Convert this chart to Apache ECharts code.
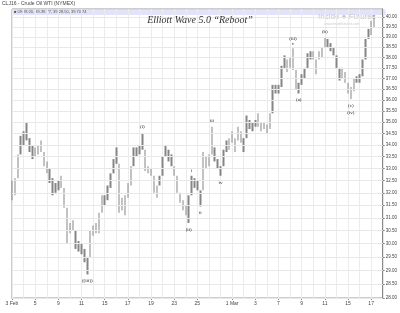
<!DOCTYPE html>
<html><head><meta charset="utf-8">
<script src="https://cdn.jsdelivr.net/npm/echarts@6/dist/echarts.min.js"></script>
<style>html,body{margin:0;padding:0;background:#fff}#c{width:400px;height:313px}</style>
</head><body><div id="c"></div>
<script>
// trading days (Feb 3 – Mar 17)
const days = ['3 Feb','4','5','8','9','10','11','12','15','16','17','18','19','22','23','24','25','26','29','1 Mar','2','3','4','7','8','9','10','11','14','15','16','17'];
const labelDayIdx = [0,2,4,6,8,10,12,14,16,19,21,23,25,27,29,31];
const barsPerDay = 4;
// bar lows / highs
const lows = [31.7,31.9,32.6,33.6,34.0,34.2,33.7,33.4,33.5,33.6,33.7,33.1,32.8,32.4,31.9,32.0,32.1,32.2,31.4,30.0,
30.4,30.5,29.8,29.7,29.6,29.3,28.85,29.5,30.3,30.4,30.4,31.2,31.5,31.7,32.2,32.8,33.2,31.2,31.3,31.1,
31.8,32.3,33.1,33.5,33.6,33.8,32.9,32.8,32.7,32.0,31.8,32.3,32.7,33.5,33.3,33.1,32.7,32.0,31.6,31.3,
31.1,30.8,31.9,32.2,32.1,31.45,32.1,33.0,33.1,33.6,33.3,33.0,32.7,33.1,33.7,33.8,34.1,33.7,34.2,34.1,
33.7,34.3,34.7,34.6,34.8,34.8,34.6,34.7,34.5,34.7,35.4,36.3,36.3,36.6,37.5,37.3,37.5,37.4,36.5,36.3,
36.7,37.0,37.5,37.9,37.9,37.2,37.9,38.0,38.5,38.5,38.3,38.1,37.5,36.9,37.0,36.8,36.3,36.05,36.4,36.8,
36.8,37.1,37.9,38.9,39.1,39.5];
const highs = [32.5,32.6,33.6,34.4,34.6,35.0,34.3,34.0,33.9,34.0,34.2,33.7,33.3,33.0,32.6,32.4,32.5,32.7,32.2,31.4,
30.8,30.9,30.5,30.1,30.0,29.8,29.5,30.5,30.7,30.8,31.2,31.9,31.9,32.3,32.8,33.4,33.9,33.2,31.8,31.9,
32.4,33.1,33.9,33.9,34.0,34.5,33.8,33.1,33.0,32.7,32.3,32.7,33.5,34.0,33.8,33.6,33.1,32.7,32.0,31.7,
31.5,31.9,32.7,32.6,32.5,32.1,33.7,33.5,33.6,34.8,33.9,33.4,33.1,33.8,34.2,34.3,34.6,34.3,34.8,34.6,
34.3,35.3,35.1,35.0,35.1,35.4,35.0,35.0,34.9,35.4,36.7,36.7,36.7,37.6,38.1,37.9,38.0,38.45,37.4,36.8,
37.2,37.5,38.2,38.3,38.3,37.9,38.3,38.5,39.0,38.9,38.7,38.5,38.1,37.5,37.5,37.3,36.8,36.6,37.0,37.1,
37.2,37.9,38.9,39.4,39.8,40.1];
const lastPrice = 39.72;
const yTicks = [28,28.5,29,29.5,30,30.5,31,31.5,32,32.5,33,33.5,34,34.5,35,35.5,36,36.5,37,37.5,38,38.5,39,39.5,40];
// Elliott wave annotations: [text, bar index, 'high'|'low']
const waveText = ['((iii))','(i)','(ii)','i','ii','iii','iv','(iii)','v','(a)','(b)','(c)','(iv)'];
const waveBar  = [26,45,61,62,65,69,72,97,97,99,108,117,117];
const waveSide = ['low','high','low','high','low','high','low','high','high','low','high','low','low'];
const waveGap  = [4,4,4,3,4,4,4,7,2,4,3,4,11];

const cats = [];
for (let d = 0; d < days.length; d++) for (let s = 0; s < barsPerDay; s++) cats.push(days[d] + '#' + s);
cats.push('end#0');
const candle = lows.map((l, i) => [l, highs[i], l, highs[i]]);
const marks = waveText.map((t, k) => {
  const i = waveBar[k], hi = waveSide[k] === 'high';
  return {name: t, coord: [i, hi ? highs[i] : lows[i]],
    label: {position: hi ? 'top' : 'bottom', distance: waveGap[k]}};
});

const chart = echarts.init(document.getElementById('c'), null, {renderer: 'canvas'});
chart.setOption({
  animation: false,
  grid: {left: 12, right: 14, top: 9, bottom: 15, show: true, borderColor: '#9a9a9a', borderWidth: 1, backgroundColor: '#fff'},
  title: {text: 'Elliott Wave 5.0 \u201cReboot\u201d', left: 'center', top: 10,
    textStyle: {fontFamily: 'Liberation Serif', fontStyle: 'italic', fontWeight: 'normal', fontSize: 10, color: '#333'}},
  graphic: [
    {type: 'rect', shape: {x: 12.5, y: 9.5, width: 373, height: 5.5}, style: {fill: '#e2e2f8'}, z: 0, silent: true},
    {type: 'text', left: 2, top: 1, style: {text: 'CLJ16 - Crude Oil WTI (NYMEX)', font: '5px "Liberation Sans"', fill: '#444'}},
    {type: 'text', left: 14, top: 10, style: {text: '\u25a0 09:28:20, 39.39.77, 39.28.50, 39.70.74', font: '4px "Liberation Sans"', fill: '#555'}},
    {type: 'text', left: 318, top: 13, style: {text: 'Inside \u25cf Futures', font: '8px "Liberation Sans"', fill: '#c4c4c4'}},
    {type: 'text', left: 324, top: 22, style: {text: 'www.insidefutures.com', font: '3.5px "Liberation Sans"', fill: '#c8c8c8'}}
  ],
  xAxis: {
    type: 'category', data: cats, boundaryGap: false,
    axisLine: {lineStyle: {color: '#888'}},
    axisTick: {show: true, length: 2, interval: (i) => i % barsPerDay === 0 && labelDayIdx.includes(i / barsPerDay), lineStyle: {color: '#888'}},
    axisLabel: {fontSize: 5, color: '#444', margin: 3, fontFamily: 'Liberation Sans',
      interval: (i) => i % barsPerDay === 0 && labelDayIdx.includes(i / barsPerDay),
      formatter: (v) => v.split('#')[0]},
    splitLine: {show: true, interval: (i) => i % barsPerDay === 0, lineStyle: {color: '#ebebeb', width: 1}}
  },
  yAxis: {
    type: 'log', logBase: 10, min: 28, max: 40.41, position: 'right', scale: true,
    axisLine: {show: true, lineStyle: {color: '#888'}},
    axisTick: {show: true, length: 2, customValues: yTicks, lineStyle: {color: '#888'}},
    axisLabel: {customValues: yTicks, fontSize: 4.5, color: '#444', margin: 3, fontFamily: 'Liberation Sans',
      formatter: (v) => Number(v).toFixed(2)},
    splitLine: {show: false}
  },
  series: [
    {type: 'line', data: [], silent: true, z: 1,
     markLine: {silent: true, symbol: 'none', label: {show: false}, animation: false,
       lineStyle: {color: '#e8e8e8', width: 1, type: 'solid'},
       data: yTicks.map(v => ({yAxis: v}))}},
    {type: 'candlestick', data: candle, barWidth: 2, z: 3,
     itemStyle: {color: '#858585', color0: '#858585', borderColor: '#858585', borderColor0: '#858585', borderWidth: 0},
     markPoint: {symbol: 'circle', symbolSize: 0, silent: true, animation: false,
       label: {show: true, formatter: '{b}', fontSize: 5, color: '#222', fontFamily: 'Liberation Serif'},
       data: marks},
     markLine: {silent: true, symbol: 'none', animation: false,
       lineStyle: {opacity: 0},
       label: {show: true, position: 'end', formatter: lastPrice.toFixed(2), fontSize: 4.5, color: '#fff',
         backgroundColor: '#111', padding: [1, 1], distance: 2, fontFamily: 'Liberation Sans'},
       data: [{yAxis: lastPrice}]}}
  ]
});
</script></body></html>
